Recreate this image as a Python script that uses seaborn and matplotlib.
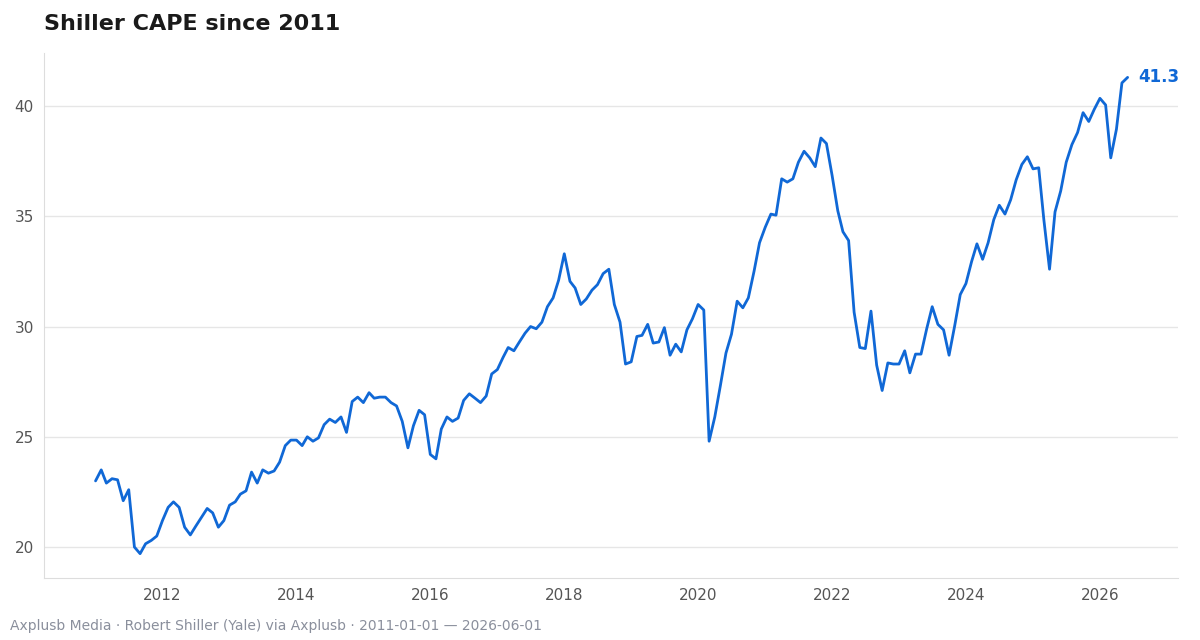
import pandas as pd
import matplotlib.pyplot as plt
import matplotlib.dates as mdates
import seaborn as sns

# Monthly CAPE values, Jan 2011 - Jun 2026
cape_2011 = [23.0, 23.5, 22.9, 23.1, 23.05, 22.1, 22.6, 20.0, 19.7, 20.15, 20.3, 20.5]
cape_2012 = [21.2, 21.8, 22.05, 21.8, 20.9, 20.55, 20.95, 21.35, 21.75, 21.55, 20.9, 21.2]
cape_2013 = [21.9, 22.05, 22.4, 22.55, 23.4, 22.9, 23.5, 23.35, 23.45, 23.85, 24.6, 24.85]
cape_2014 = [24.85, 24.6, 25.0, 24.8, 24.95, 25.55, 25.8, 25.65, 25.9, 25.2, 26.6, 26.8]
cape_2015 = [26.55, 27.0, 26.75, 26.8, 26.8, 26.55, 26.4, 25.7, 24.5, 25.5, 26.2, 26.0]
cape_2016 = [24.2, 24.0, 25.35, 25.9, 25.7, 25.85, 26.65, 26.95, 26.75, 26.55, 26.85, 27.85]
cape_2017 = [28.05, 28.6, 29.05, 28.9, 29.3, 29.7, 30.0, 29.9, 30.2, 30.9, 31.3, 32.1]
cape_2018 = [33.3, 32.05, 31.75, 31.0, 31.25, 31.65, 31.9, 32.4, 32.6, 31.0, 30.2, 28.3]
cape_2019 = [28.4, 29.55, 29.6, 30.1, 29.25, 29.3, 29.95, 28.7, 29.2, 28.85, 29.85, 30.35]
cape_2020 = [31.0, 30.75, 24.8, 25.9, 27.3, 28.8, 29.65, 31.15, 30.85, 31.3, 32.5, 33.8]
cape_2021 = [34.5, 35.1, 35.05, 36.7, 36.55, 36.7, 37.45, 37.95, 37.65, 37.25, 38.55, 38.3]
cape_2022 = [36.85, 35.25, 34.3, 33.9, 30.65, 29.05, 29.0, 30.7, 28.25, 27.1, 28.35, 28.3]
cape_2023 = [28.3, 28.9, 27.9, 28.75, 28.75, 29.9, 30.9, 30.1, 29.85, 28.7, 30.05, 31.45]
cape_2024 = [31.95, 32.95, 33.75, 33.05, 33.8, 34.85, 35.5, 35.1, 35.75, 36.65, 37.35, 37.7]
cape_2025 = [37.15, 37.2, 34.85, 32.6, 35.2, 36.15, 37.45, 38.25, 38.8, 39.7, 39.3, 39.85]
cape_2026 = [40.35, 40.05, 37.65, 38.95, 41.05, 41.3]

values = (cape_2011 + cape_2012 + cape_2013 + cape_2014 + cape_2015 + cape_2016
          + cape_2017 + cape_2018 + cape_2019 + cape_2020 + cape_2021 + cape_2022
          + cape_2023 + cape_2024 + cape_2025 + cape_2026)
dates = pd.date_range('2011-01-01', periods=len(values), freq='MS')
df = pd.DataFrame({'date': dates, 'cape': values})

sns.set_style('white')
blue = '#1068d6'

fig, ax = plt.subplots(figsize=(12, 6.4), dpi=100)
fig.subplots_adjust(left=0.037, right=0.982, top=0.917, bottom=0.097)
sns.lineplot(data=df, x='date', y='cape', color=blue, linewidth=2, ax=ax)

ax.set_xlim(pd.Timestamp('2010-03-28'), pd.Timestamp('2027-03-05'))
ax.set_ylim(18.6, 42.4)
ax.set_yticks([20, 25, 30, 35, 40])
ax.xaxis.set_major_locator(mdates.YearLocator(2))
ax.xaxis.set_major_formatter(mdates.DateFormatter('%Y'))
ax.grid(axis='y', color='#e6e6e6', linewidth=1)
ax.set_xlabel('')
ax.set_ylabel('')
ax.tick_params(axis='both', labelsize=11, colors='#555555', length=4)
for side in ['top', 'right']:
    ax.spines[side].set_visible(False)
for side in ['left', 'bottom']:
    ax.spines[side].set_color('#dddddd')

last = df.iloc[-1]
ax.annotate(f"{last['cape']:.1f}", (last['date'], last['cape']), xytext=(8, 0),
            textcoords='offset points', color=blue, fontsize=12, fontweight='bold',
            va='center')

fig.text(0.037, 0.962, 'Shiller CAPE since 2011', fontsize=16, fontweight='bold',
         color='#1a1a1a', va='center')
fig.text(0.008, 0.022, 'Axplusb Media · Robert Shiller (Yale) via Axplusb · 2011-01-01 — 2026-06-01',
         fontsize=10, color='#8a8f9c', va='center')

plt.savefig('out.png')
